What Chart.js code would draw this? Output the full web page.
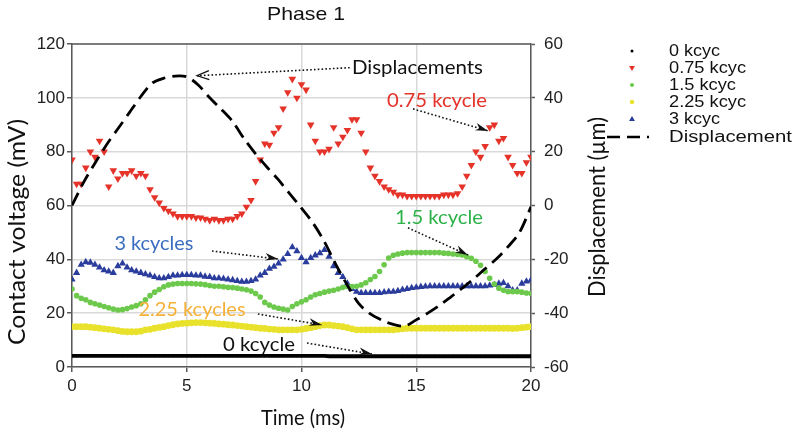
<!DOCTYPE html>
<html><head><meta charset="utf-8">
<script src="https://cdn.jsdelivr.net/npm/chart.js@4/dist/chart.umd.min.js"></script>
<style>html,body{margin:0;padding:0;background:#fff;}canvas{display:block;}</style>
</head><body>
<canvas id="c" width="794" height="438"></canvas>
<script>
// ---- data (time in ms, contact voltage in mV, displacement in µm) ----
const sampleStepMs = 0.2;      // sampling interval of the contact-voltage traces
const dispStepMs = 0.5;        // sampling interval of the displacement trace

const v0kcyc = [
 4.1,4.1,4.1,4.1,4.1,4.1,4.1,4.1,4.1,4.1,
 4.1,4.1,4.1,4.1,4.1,4.1,4.1,4.1,4.1,4.1,
 4.1,4.1,4.1,4.1,4.1,4.1,4.1,4.1,4.1,4.1,
 4.1,4.1,4.1,4.1,4.1,4.1,4.1,4.1,4.1,4.1,
 4.1,4.1,4.1,4.1,4.1,4.1,4.1,4.1,4.1,4.1,
 4.1,4.1,4.1,4.1,4.1,4.1,4.0,4.0,4.0,4.0,
 4.0,4.0,4.0,4.0,4.0,4.0,4.0,4.0,4.0,4.0,
 4.0,4.0,4.0,4.0,4.0,4.0,4.0,4.0,4.0,4.0,
 4.0,4.0,4.0,4.0,4.0,4.0,4.0,4.0,4.0,4.0,
 4.0,4.0,4.0,4.0,4.0,4.0,4.0,4.0,4.0,4.0,
 4.0];
const v075kcyc = [
 77,68,68,74,80,78,84,80,67,73,
 70,72,72,73,71,72,71,66,63,61,
 59,58,57,56,56,56,56,55.5,55.5,55,
 54.5,55,54.5,54.5,55,55,56,57,59.5,62,
 69,77,83,82.5,87,89,96,102,107,100,
 105,103,90,84,80,80,81,89,83,85.5,
 88,92,92,87,80,74,71,69,67,66,
 65,64,64,63.5,63.5,63.5,63.5,63.5,63.5,63.5,
 63.5,64,64,64,64.5,67,71,75,80,78,
 82,89,90,84,85,78,75,72,72,76,
 78];
const v15kcyc = [
 29,26.5,25.5,25,24,23.5,23,22.5,22,21.5,
 21.2,21.3,21.7,22.3,22.8,23.5,25,26.5,27.8,28.8,
 29.8,30.5,30.8,31,31,31,31,30.9,30.8,30.6,
 30.3,30,30,29.8,29.6,29.5,29.3,29,28.7,28.2,
 27.3,26,24,23,22.3,21.8,21.5,21.2,22.5,23.5,
 24.2,25,26,26.8,27.3,27.8,28.2,28.5,29,29.6,
 29.9,29.9,30,30.5,31.3,32.5,33.6,35.5,38,40.5,
 41.5,42,42.3,42.5,42.5,42.5,42.5,42.5,42.5,42.5,
 42.5,42.3,42.2,42,41.8,41.6,41,40.4,39.3,37.8,
 35.5,33,30.8,29.3,28.5,28,28,28,27.8,27.5,
 27.3];
const v225kcyc = [
 15,15,15,15,14.8,14.6,14.4,14.2,14,13.8,
 13.5,13.2,13.1,13.1,13.1,13.3,13.8,14,14.4,14.7,
 15,15.4,15.7,16,16.2,16.3,16.4,16.5,16.5,16.4,
 16.3,16.2,16,15.9,15.7,15.6,15.4,15.2,15,14.8,
 14.6,14.4,14.3,14.1,14,13.8,13.8,13.8,13.8,13.8,
 14,14.3,14.6,15,15.4,15.6,15.6,15.4,15.2,15,
 14.6,14.2,13.8,13.8,13.8,13.8,13.8,13.8,13.8,13.8,
 13.8,14,14.2,14.4,14.4,14.4,14.4,14.4,14.4,14.4,
 14.4,14.4,14.4,14.4,14.4,14.4,14.4,14.4,14.4,14.4,
 14.4,14.4,14.4,14.4,14.4,14.4,14.3,14.4,14.6,14.8,
 15];
const v3kcyc = [
 32.5,35,38,39,38.8,38,37,36,35.5,35,
 37.5,38.5,37,36,35.5,35,34.5,34,33.5,33,
 33,33.5,34,34,34.2,34.2,34.2,34,34,33.6,
 33.5,33,33,32.8,32.5,32.3,32,31.7,31.7,32,
 32.5,34,35,36.5,37.3,38.5,40,42,44.5,43,
 40.5,39,40.5,41.5,42.3,43.5,41,37.5,35,33.5,
 31,29,28,27.5,27.5,27.5,27.5,27.5,27.8,28,
 28,28.3,28.7,29,29.4,29.6,29.8,29.9,30,30,
 30,30,30,30,30,30,30,30,30,30,
 30,30.3,30.5,31,31.2,30,28.5,28.5,31,31.8,
 32.3];
const displacementUm = [
 0,8.5,15.7,22.5,28.5,34.5,40.5,45.5,47.3,48.1,
 47.8,44.8,40,35.8,31.2,24.8,19.2,14.2,9.5,4.2,
 -1,-6.5,-13.5,-22,-29.6,-36.5,-40.3,-42.6,-44.2,-44.8,
 -42.5,-40,-37.2,-34,-30.7,-27.3,-23.5,-19.8,-15.3,-10,
 -0.5];

const xTicks = [0,5,10,15,20];
const leftTicks = [0,20,40,60,80,100,120];
const rightTicks = [-60,-40,-20,0,20,40,60];

const seriesNames = ['0 kcyc','0.75 kcyc','1.5 kcyc','2.25 kcyc','3 kcyc','Displacement'];

// ---- build points ----
function pts(arr, step){ return arr.map((v,i)=>({x:+(i*step).toFixed(2), y:v})); }

const C = {black:'#000000', red:'#e5332a', green:'#6cc94c', yellow:'#e8e22c', blue:'#2b3d9c'};

const annotations = [
 {text:'Displacements', t:15.05, v:111.2, w:131, color:'#111', a:[12.1,111.2,5.45,108.2], head:'open'},
 {text:'0.75 kcycle', t:15.9, v:98.9, w:100, color:'#e5332a', a:[14.86,95.9,18.13,87.7], head:'fill'},
 {text:'1.5 kcycle', t:15.99, v:55.4, w:88, color:'#2db24a', a:[14.64,51.7,17.25,41.6], head:'fill'},
 {text:'3 kcycles', t:3.57, v:45.7, w:79, color:'#3a6dbf', a:[6.1,43.1,8.98,40.1], head:'fill'},
 {text:'2.25 kcycles', t:5.23, v:21.2, w:107, color:'#f6b035', a:[8.1,19.7,10.89,15.6], head:'fill'},
 {text:'0 kcycle', t:8.15, v:8.2, w:72, color:'#111', a:[10.24,8.9,13.07,4.8], head:'fill'}
];

function fitText(ctx, str, x, y, size, width, color, family, align, rot){
  ctx.save();
  ctx.font = size + 'px ' + family;
  const w = ctx.measureText(str).width;
  ctx.translate(x, y);
  if (rot) ctx.rotate(rot);
  ctx.scale(width / w, 1);
  ctx.fillStyle = color;
  ctx.textAlign = align || 'center';
  ctx.textBaseline = 'middle';
  ctx.fillText(str, 0, 0);
  ctx.restore();
}
function arrow(ctx, x1, y1, x2, y2, head){
  ctx.save();
  ctx.strokeStyle = '#111'; ctx.fillStyle = '#111'; ctx.lineWidth = 1.6;
  ctx.setLineDash([1.6,2.2]);
  ctx.beginPath(); ctx.moveTo(x1,y1); ctx.lineTo(x2,y2); ctx.stroke();
  ctx.setLineDash([]);
  const ang = Math.atan2(y2-y1, x2-x1);
  ctx.translate(x2,y2); ctx.rotate(ang);
  if (head === 'open'){
    ctx.lineWidth = 1.3;
    ctx.beginPath(); ctx.moveTo(-12,-4.5); ctx.lineTo(0,0); ctx.lineTo(-12,4.5); ctx.stroke();
  } else {
    ctx.beginPath(); ctx.moveTo(0,0); ctx.lineTo(-13,-4.5); ctx.lineTo(-9,0); ctx.lineTo(-13,3); ctx.closePath(); ctx.fill();
  }
  ctx.restore();
}

const deco = {
  id:'deco',
  afterDraw(chart){
    const ctx = chart.ctx, xs = chart.scales.x, ys = chart.scales.y, a = chart.chartArea;
    // top frame line
    ctx.save(); ctx.strokeStyle = '#5a5a5a'; ctx.lineWidth = 1.5;
    ctx.beginPath(); ctx.moveTo(a.left, a.top); ctx.lineTo(a.right, a.top); ctx.stroke(); ctx.restore();
    // title & axis titles
    fitText(ctx, 'Phase 1', 306, 15, 19, 78, '#111', '"Liberation Sans", Arial, sans-serif');
    fitText(ctx, 'Contact voltage (mV)', 18, 232, 23, 226, '#111', 'Lato, "Open Sans", sans-serif', 'center', -Math.PI/2);
    fitText(ctx, 'Time (ms)', 303, 418, 21, 84, '#111', 'Lato, "Open Sans", sans-serif');
    fitText(ctx, 'Displacement (\u00b5m)', 598, 207, 23, 180, '#111', 'Lato, "Open Sans", sans-serif', 'center', -Math.PI/2);
    // annotations
    annotations.forEach(n => {
      fitText(ctx, n.text, xs.getPixelForValue(n.t), ys.getPixelForValue(n.v), 19, n.w, n.color, 'Lato, "Open Sans", sans-serif');
      arrow(ctx, xs.getPixelForValue(n.a[0]), ys.getPixelForValue(n.a[1]), xs.getPixelForValue(n.a[2]), ys.getPixelForValue(n.a[3]), n.head);
    });
    // legend
    const rows = [51,68,85,102,119,137], widths = [51,77,67,77,51,123];
    const mx = 632;
    ctx.save();
    ctx.fillStyle = C.black; ctx.beginPath(); ctx.arc(mx, rows[0], 1.5, 0, Math.PI*2); ctx.fill();
    ctx.fillStyle = C.red; ctx.beginPath(); ctx.moveTo(mx-3, rows[1]-2); ctx.lineTo(mx+3, rows[1]-2); ctx.lineTo(mx, rows[1]+3); ctx.closePath(); ctx.fill();
    ctx.fillStyle = C.green; ctx.beginPath(); ctx.arc(mx, rows[2], 2, 0, Math.PI*2); ctx.fill();
    ctx.fillStyle = C.yellow; ctx.beginPath(); ctx.arc(mx, rows[3], 2.2, 0, Math.PI*2); ctx.fill();
    ctx.fillStyle = C.blue; ctx.beginPath(); ctx.moveTo(mx-3, rows[4]+2); ctx.lineTo(mx+3, rows[4]+2); ctx.lineTo(mx, rows[4]-3); ctx.closePath(); ctx.fill();
    ctx.strokeStyle = '#000'; ctx.lineWidth = 2.6; ctx.setLineDash([13,7]);
    ctx.beginPath(); ctx.moveTo(607, rows[5]); ctx.lineTo(649, rows[5]); ctx.stroke();
    ctx.restore();
    seriesNames.forEach((s,i) => fitText(ctx, s, 669, rows[i]+1, 16, widths[i], '#111', '"Liberation Sans", Arial, sans-serif', 'left'));
  }
};

const tickFont = {family:'"Liberation Sans", Arial, sans-serif', size:17};
const gridColor = '#d9d9d9', axisColor = '#5a5a5a';

new Chart(document.getElementById('c'), {
  type:'scatter',
  data:{ datasets:[
    {label:seriesNames[5], data:pts(displacementUm, dispStepMs), yAxisID:'y2', showLine:true, borderColor:'#000', borderWidth:2.8, borderDash:[14,7], pointRadius:0, order:0, tension:0.3},
    {label:seriesNames[0], data:pts(v0kcyc, sampleStepMs), yAxisID:'y', showLine:true, borderColor:C.black, borderWidth:3.8, backgroundColor:C.black, pointRadius:1.4, pointBorderWidth:0, order:1},
    {label:seriesNames[2], data:pts(v15kcyc, sampleStepMs), yAxisID:'y', backgroundColor:C.green, borderColor:C.green, pointRadius:2.8, pointBorderWidth:0, order:2},
    {label:seriesNames[4], data:pts(v3kcyc, sampleStepMs), yAxisID:'y', backgroundColor:C.blue, borderColor:C.blue, pointStyle:'triangle', pointRadius:4.2, pointBorderWidth:0, order:3},
    {label:seriesNames[3], data:pts(v225kcyc, sampleStepMs), yAxisID:'y', backgroundColor:C.yellow, borderColor:C.yellow, pointRadius:3.4, pointBorderWidth:0, order:4},
    {label:seriesNames[1], data:pts(v075kcyc, sampleStepMs), yAxisID:'y', backgroundColor:C.red, borderColor:C.red, pointStyle:'triangle', rotation:180, pointRadius:4.4, pointBorderWidth:0, order:5}
  ]},
  options:{
    responsive:false, animation:false, devicePixelRatio:1,
    layout:{padding:{top:44, left:0, right:0, bottom:0}},
    plugins:{legend:{display:false}, tooltip:{enabled:false}, title:{display:false}},
    scales:{
      x:{type:'linear', min:0, max:20, afterBuildTicks(s){ s.ticks = xTicks.map(v=>({value:v})); },
         afterFit(s){ s.height = 71; },
         grid:{color:gridColor, lineWidth:1.5, tickLength:5, tickColor:axisColor, tickWidth:1.5},
         border:{color:axisColor, width:1.5},
         ticks:{font:tickFont, color:'#222', padding:4, maxRotation:0}},
      y:{position:'left', min:0, max:120, afterBuildTicks(s){ s.ticks = leftTicks.map(v=>({value:v})); },
         afterFit(s){ s.width = 72; },
         grid:{color:gridColor, lineWidth:1.5, tickLength:5, tickColor:axisColor, tickWidth:1.5},
         border:{color:axisColor, width:1.5},
         ticks:{font:tickFont, color:'#222', padding:2}},
      y2:{position:'right', min:-60, max:60, afterBuildTicks(s){ s.ticks = rightTicks.map(v=>({value:v})); },
         afterFit(s){ s.width = 263; },
         grid:{drawOnChartArea:false, tickLength:4, tickColor:axisColor, tickWidth:1.5},
         border:{color:axisColor, width:1.5},
         ticks:{font:tickFont, color:'#222', padding:9}}
    }
  },
  plugins:[deco]
});
</script>
</body></html>
